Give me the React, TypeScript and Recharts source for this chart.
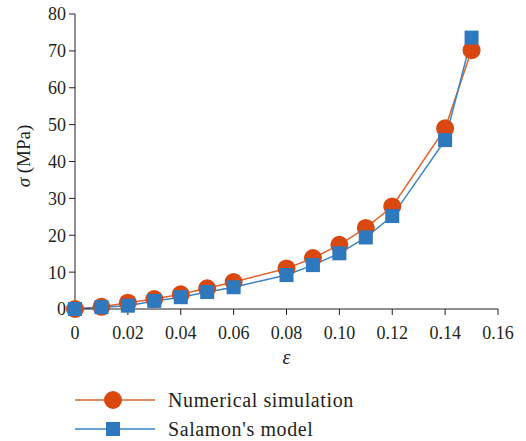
import React from "react";
import { LineChart, Line, XAxis, YAxis, Legend } from "recharts";

const strain = [0, 0.01, 0.02, 0.03, 0.04, 0.05, 0.06, 0.08, 0.09, 0.1, 0.11, 0.12, 0.14, 0.15];
const numerical = [0, 0.6, 1.7, 2.7, 4.0, 5.6, 7.3, 11.0, 13.8, 17.4, 22.0, 27.8, 49.0, 70.2];
const salamon = [0, 0.5, 0.9, 2.2, 3.2, 4.6, 5.9, 9.2, 11.9, 15.1, 19.4, 25.2, 45.8, 73.6];

const xTicks = [0, 0.02, 0.04, 0.06, 0.08, 0.1, 0.12, 0.14, 0.16];
const yTicks = [0, 10, 20, 30, 40, 50, 60, 70, 80];

const data = strain.map((e, i) => ({ e, num: numerical[i], sal: salamon[i] }));

const ORANGE = "#D9480F";
const ORANGE_LINE = "#E0642A";
const BLUE = "#2E78BD";
const BLUE_LINE = "#3A83C6";
const AXIS = "#231F20";
const FONT = "Liberation Serif, DejaVu Serif, serif";

const CircleDot = (props: any) => {
  const { cx, cy } = props;
  if (cx == null || cy == null) return null;
  return <circle cx={cx} cy={cy} r={9} fill={ORANGE} />;
};

const SquareDot = (props: any) => {
  const { cx, cy } = props;
  if (cx == null || cy == null) return null;
  return <rect x={cx - 7} y={cy - 7} width={14} height={14} fill={BLUE} />;
};

const fmtX = (v: number) => (v === 0 ? "0" : v.toFixed(2));

const YLabel = () => (
  <text
    x={23}
    y={156}
    transform="rotate(-90, 23, 156)"
    textAnchor="middle"
    dominantBaseline="central"
    fontFamily={FONT}
    fontSize={19}
    fill={AXIS}
  >
    <tspan fontStyle="italic">σ</tspan>
    <tspan> (MPa)</tspan>
  </text>
);

const LegendBox = () => (
  <svg width={526} height={72} style={{ display: "block" }}>
    <line x1={75} y1={31} x2={155} y2={31} stroke={ORANGE_LINE} strokeWidth={1.5} />
    <circle cx={113} cy={31} r={9} fill={ORANGE} />
    <text x={168} y={31} dominantBaseline="central" fontFamily={FONT} fontSize={20} letterSpacing={0.6} fill={AXIS}>
      Numerical simulation
    </text>
    <line x1={75} y1={60} x2={155} y2={60} stroke={BLUE_LINE} strokeWidth={1.5} />
    <rect x={106} y={53} width={14} height={14} fill={BLUE} />
    <text x={168} y={60} dominantBaseline="central" fontFamily={FONT} fontSize={20} letterSpacing={0.6} fill={AXIS}>
      Salamon's model
    </text>
  </svg>
);

export default function App() {
  return (
    <div style={{ position: "absolute", left: 0, top: 0, background: "#fff" }}>
      <LineChart width={526} height={441} data={data} margin={{ top: 14, right: 28, left: 15, bottom: 0 }}>
        <XAxis
          dataKey="e"
          type="number"
          domain={[0, 0.16]}
          ticks={xTicks}
          tickFormatter={fmtX}
          height={60}
          tickSize={6}
          tickMargin={11}
          stroke={AXIS}
          tick={{ fill: AXIS, fontFamily: FONT, fontSize: 18 }}
          label={{
            value: "ε",
            position: "insideBottom",
            offset: 5,
            fill: AXIS,
            fontFamily: FONT,
            fontSize: 20,
            fontStyle: "italic",
          }}
        />
        <YAxis
          type="number"
          domain={[0, 80]}
          ticks={yTicks}
          width={60}
          tickSize={6}
          tickMargin={3}
          stroke={AXIS}
          tick={{ fill: AXIS, fontFamily: FONT, fontSize: 18 }}
          label={{ content: () => <YLabel /> }}
        />
        <Legend
          verticalAlign="bottom"
          height={72}
          wrapperStyle={{ left: 0, bottom: 0, width: 526, height: 72 }}
          content={() => <LegendBox />}
        />
        <Line
          dataKey="num"
          name="Numerical simulation"
          stroke={ORANGE_LINE}
          strokeWidth={1.5}
          dot={<CircleDot />}
          activeDot={false}
          isAnimationActive={false}
        />
        <Line
          dataKey="sal"
          name="Salamon's model"
          stroke={BLUE_LINE}
          strokeWidth={1.5}
          dot={<SquareDot />}
          activeDot={false}
          isAnimationActive={false}
        />
      </LineChart>
    </div>
  );
}
